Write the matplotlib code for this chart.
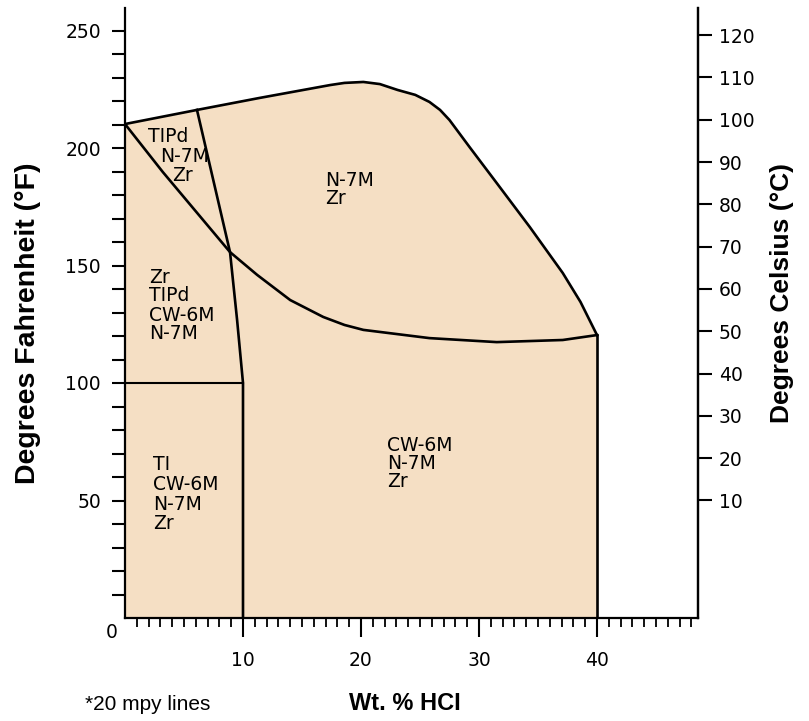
import numpy as np
import matplotlib
matplotlib.use("Agg")
import matplotlib.pyplot as plt

# 20 mpy iso-corrosion lines (wt. % HCl vs deg F)
top_x = [0, 6.1, 11.4, 17.4, 18.6, 20.2, 21.6, 23.1, 24.6, 25.8, 26.7, 27.5, 29.2, 31.5, 34.3, 37.1, 38.6, 40.0]
top_f = [210.2, 216.2, 221.3, 226.8, 227.7, 228.1, 227.2, 224.7, 222.6, 219.6, 216.2, 211.9, 200.4, 185.1, 166.4, 146.8, 134.5, 120.4]

curve_x = [0, 3.2, 8.9, 11.2, 14.0, 16.8, 18.6, 20.2, 25.8, 31.5, 37.1, 40.0]
curve_f = [210.2, 189.8, 155.7, 146.0, 135.3, 128.1, 124.7, 122.6, 119.1, 117.4, 118.3, 120.4]

split_x = [6.1, 8.9, 9.5, 10.0, 10.0]
split_f = [216.2, 155.7, 126.8, 100.0, 0]

ti_x = [0, 10]
ti_f = [100, 100]

# alloy groups in each zone
zone_labels = [
    ["TIPd", "N-7M", "Zr"],
    ["N-7M", "Zr"],
    ["Zr", "TIPd", "CW-6M", "N-7M"],
    ["TI", "CW-6M", "N-7M", "Zr"],
    ["CW-6M", "N-7M", "Zr"],
]
# (x, y) of each line, wt% / deg F
zone_pos = [
    [(1.95, 204.7), (2.97, 196.2), (3.98, 188.5)],
    [(16.95, 186.2), (16.95, 178.3)],
    [(2.03, 144.9), (2.03, 137.4), (2.03, 128.9), (2.03, 120.9)],
    [(2.37, 65.5), (2.37, 57.0), (2.37, 48.5), (2.37, 40.4)],
    [(22.2, 73.6), (22.2, 65.7), (22.2, 58.1)],
]

fill_col = "#F5DFC4"
W, H = 809, 721

fig = plt.figure(figsize=(W / 100, H / 100), dpi=100)
ax = fig.add_axes([125 / W, 1 - 618 / H, (698 - 125) / W, (618 - 8) / H])

ax.fill_between(top_x, 0, top_f, color=fill_col, lw=0)
lw = 1.9
ax.plot(top_x, top_f, color="black", lw=lw)
ax.plot([top_x[-1], top_x[-1]], [top_f[-1], 0], color="black", lw=lw)
ax.plot(curve_x, curve_f, color="black", lw=lw)
ax.plot(split_x, split_f, color="black", lw=lw)
ax.plot(ti_x, ti_f, color="black", lw=1.5)

for lines, pos in zip(zone_labels, zone_pos):
    for s, (x, y) in zip(lines, pos):
        ax.text(x, y, s, fontsize=13.5, ha="left", va="center", family="DejaVu Sans")

ymax_f = (618 - 8) / 2.35
ax.set_xlim(0, (698 - 125) / 11.8)
ax.set_ylim(0, ymax_f)

ax.spines["top"].set_visible(False)
for s in ["left", "bottom", "right"]:
    ax.spines[s].set_linewidth(1.6)

ax.set_xticks([10, 20, 30, 40])
ax.set_xticks([i for i in range(1, 49) if i % 10], minor=True)
ax.set_yticks([50, 100, 150, 200, 250])
ax.set_yticks([i for i in range(10, 260, 10) if i % 50], minor=True)
ax.tick_params(axis="x", which="major", length=13.7, width=1.5, pad=10, labelsize=13.5)
ax.tick_params(axis="x", which="minor", length=6.5, width=1.3)
ax.tick_params(axis="y", which="both", length=9.4, width=1.5, pad=8, labelsize=13.5)

ax2 = ax.twinx()
ax2.set_ylim((0 - 32) * 5 / 9, (ymax_f - 32) * 5 / 9)
ax2.set_yticks(range(10, 121, 10))
ax2.tick_params(axis="y", length=10, width=1.5, pad=5, labelsize=13.5)
for s in ["top", "left", "bottom"]:
    ax2.spines[s].set_visible(False)
ax2.spines["right"].set_linewidth(1.6)

fig.text(112 / W, 1 - 632 / H, "0", fontsize=13.5, ha="center", va="center")
fig.text(28 / W, 1 - 323 / H, "Degrees Fahrenheit (°F)", rotation=90, ha="center", va="center",
         fontsize=20.5, fontweight="bold", family="Liberation Sans")
fig.text(782 / W, 1 - 293 / H, "Degrees Celsius (°C)", rotation=90, ha="center", va="center",
         fontsize=19, fontweight="bold", family="Liberation Sans")
fig.text(405 / W, 1 - 704 / H, "Wt. % HCI", ha="center", va="center",
         fontsize=17, fontweight="bold", family="Liberation Sans")
fig.text(85 / W, 1 - 704 / H, "*20 mpy lines", ha="left", va="center",
         fontsize=15, family="Liberation Sans")

fig.savefig("out.png", dpi=100)
